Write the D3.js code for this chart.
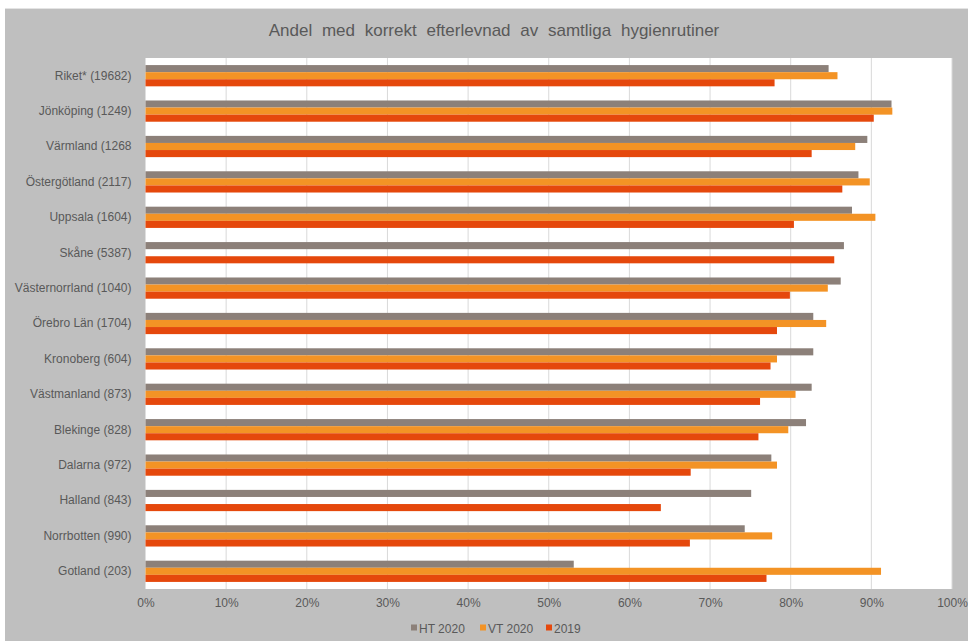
<!DOCTYPE html>
<html><head><meta charset="utf-8">
<script src="https://cdn.jsdelivr.net/npm/d3@7"></script>
<style>
html,body{margin:0;padding:0;background:#fff;}
svg{display:block;font-family:"Liberation Sans",Arial,sans-serif;}
</style></head>
<body>
<svg id="chart" width="968" height="641"></svg>
<script>
const categories = ["Riket* (19682)","Jönköping (1249)","Värmland (1268","Östergötland (2117)","Uppsala (1604)","Skåne (5387)","Västernorrland (1040)","Örebro Län (1704)","Kronoberg (604)","Västmanland (873)","Blekinge (828)","Dalarna (972)","Halland (843)","Norrbotten (990)","Gotland (203)"];
const seriesNames = ["HT 2020","VT 2020","2019"];
const ht2020 = [84.7,92.5,89.5,88.4,87.6,86.6,86.2,82.8,82.8,82.6,81.9,77.6,75.1,74.3,53.1];
const vt2020 = [85.8,92.6,88.0,89.8,90.5,null,84.6,84.4,78.3,80.6,79.7,78.3,null,77.7,91.2];
const y2019  = [78.0,90.3,82.6,86.4,80.4,85.4,79.9,78.3,77.5,76.2,76.0,67.6,63.9,67.5,77.0];
const xTicks = [0,10,20,30,40,50,60,70,80,90,100];
const title = "Andel med korrekt efterlevnad av samtliga hygienrutiner";

const colors = {"HT 2020":"#8c8079","VT 2020":"#f39325","2019":"#e5480c"};
const svg = d3.select("#chart");
const W = 968, H = 641;

svg.append("rect").attr("x",5).attr("y",9).attr("width",W-5).attr("height",H-9).attr("fill","#bfbfbf");
svg.append("line").attr("x1",5).attr("x2",W).attr("y1",8.5).attr("y2",8.5).attr("stroke","#e4e4e4");

const plot = {left:145.5, right:952, top:58, bottom:589};
svg.append("rect").attr("x",plot.left).attr("y",plot.top)
  .attr("width",plot.right-plot.left).attr("height",plot.bottom-plot.top).attr("fill","#fff");

const x = d3.scaleLinear().domain([0,100]).range([plot.left, plot.right]);
const y = d3.scaleBand().domain(categories).range([plot.top, plot.bottom]).paddingInner(0.4).paddingOuter(0.2);
const ySub = d3.scaleBand().domain(seriesNames).range([0, y.bandwidth()]);

svg.append("g").selectAll("line").data(xTicks.slice(1)).join("line")
  .attr("x1",d=>x(d)).attr("x2",d=>x(d)).attr("y1",plot.top).attr("y2",plot.bottom)
  .attr("stroke","#d9d9d9").attr("stroke-width",1);

const rows = categories.map((c,i)=>({cat:c, vals:[ht2020[i],vt2020[i],y2019[i]]}));
const g = svg.append("g");
rows.forEach(r=>{
  r.vals.forEach((v,j)=>{
    if(v==null) return;
    const s = seriesNames[j];
    g.append("rect")
      .attr("x", x(0))
      .attr("y", y(r.cat)+ySub(s))
      .attr("width", x(v)-x(0))
      .attr("height", ySub.bandwidth())
      .attr("fill", colors[s]);
  });
});

const xAxis = d3.axisBottom(x).tickValues(xTicks).tickFormat(d=>d+"%").tickSize(0).tickPadding(9);
const xg = svg.append("g").attr("transform",`translate(0,${plot.bottom})`).call(xAxis);
xg.select(".domain").remove();
xg.selectAll("text").attr("fill","#595959").attr("font-size","12px").attr("font-family","Liberation Sans, Arial, sans-serif");

const yAxis = d3.axisLeft(y).tickSize(0).tickPadding(14);
const yg = svg.append("g").attr("transform",`translate(${plot.left},0)`).call(yAxis);
yg.select(".domain").remove();
yg.selectAll("text").attr("fill","#595959").attr("font-size","12px").attr("font-family","Liberation Sans, Arial, sans-serif");

svg.append("text").attr("x",494).attr("y",36).attr("text-anchor","middle")
  .attr("fill","#595959").attr("font-size","17px").attr("word-spacing","5px").text(title);

const legendX = [411, 480, 546];
const lg = svg.append("g");
seriesNames.forEach((s,i)=>{
  lg.append("rect").attr("x",legendX[i]).attr("y",624.5).attr("width",6).attr("height",6).attr("fill",colors[s]);
  lg.append("text").attr("x",legendX[i]+8).attr("y",632.5).attr("fill","#595959").attr("font-size","12px").text(s);
});
</script>
</body></html>
